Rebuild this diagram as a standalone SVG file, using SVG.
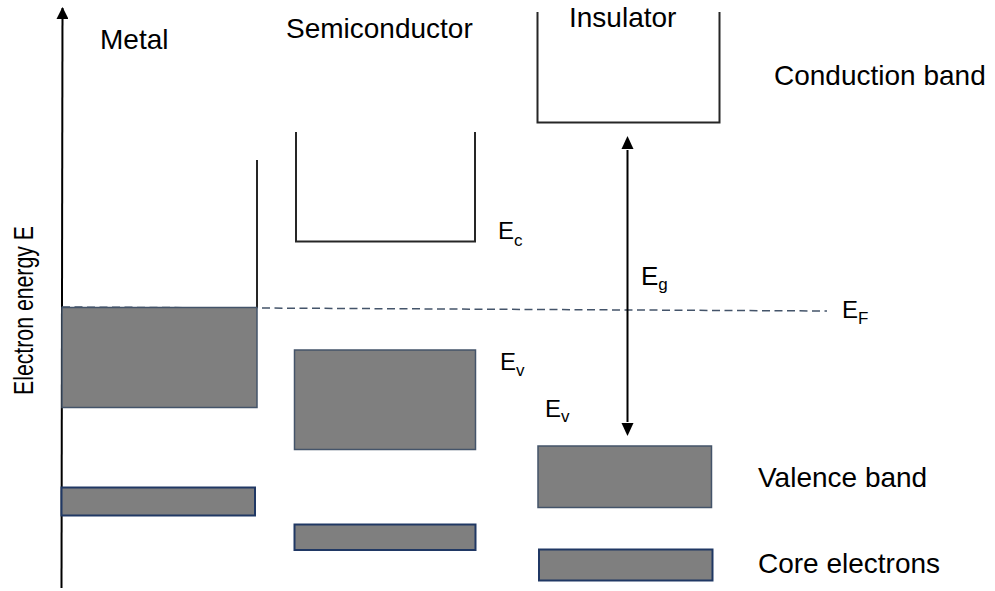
<svg xmlns="http://www.w3.org/2000/svg" width="995" height="591" viewBox="0 0 995 591">
<style>
text{font-family:"Liberation Sans",Arial,sans-serif;fill:#000}
.lbl{font-size:28px}
.e{font-size:24px}
.sub{font-size:17px}
.band{fill:none;stroke:#262626;stroke-width:2}
.val{fill:#7f7f7f;stroke:#44546a;stroke-width:1.5}
.core{fill:#7f7f7f;stroke:#203864;stroke-width:2}
.ax{stroke:#000;stroke-width:2;fill:none}
</style>
<defs>
<marker id="ah" viewBox="0 0 12 12" refX="11" refY="6" markerWidth="12" markerHeight="12" markerUnits="userSpaceOnUse" orient="auto">
<path d="M0,0 L12,6 L0,12 Z" fill="#000"/>
</marker>
</defs>
<g id="connectors">
<line class="ax" x1="61.5" y1="588" x2="62.5" y2="8" marker-end="url(#ah)"/>
<line x1="62" y1="307" x2="827" y2="311" stroke="#44546a" stroke-width="1.5" stroke-dasharray="8,4.5"/>
<line class="ax" x1="627.5" y1="150" x2="627.5" y2="422"/>
<path d="M627.5,136 L621.5,149 L633.5,149 Z" fill="#000"/>
<path d="M627.5,436 L621.5,423 L633.5,423 Z" fill="#000"/>
</g>
<g id="axis-label">
<text class="lbl" transform="translate(33,395) rotate(-90)" textLength="169" lengthAdjust="spacingAndGlyphs">Electron energy E</text>
</g>
<g id="metal">
<text class="lbl" x="100" y="49">Metal</text>
<line class="band" x1="257" y1="160" x2="257" y2="308"/>
<rect class="val" x="62" y="307.5" width="195" height="100"/>
<rect class="core" x="61.5" y="487.5" width="193.5" height="28"/>
</g>
<g id="semiconductor">
<text class="lbl" x="286" y="38">Semiconductor</text>
<path class="band" d="M296,132 V241.5 H475 V132"/>
<rect class="val" x="294.5" y="350" width="181" height="99.5"/>
<rect class="core" x="294.5" y="524.5" width="181" height="25.5"/>
<text class="e" x="498" y="239">E<tspan class="sub" dy="7">c</tspan></text>
<text class="e" x="500" y="370">E<tspan class="sub" dy="6">v</tspan></text>
</g>
<g id="insulator">
<text class="lbl" x="569" y="27">Insulator</text>
<path class="band" d="M537.5,12 V122.5 H719.5 V12"/>
<rect class="val" x="538" y="446" width="173.5" height="61.5"/>
<rect class="core" x="539" y="549.5" width="173.5" height="31"/>
<text class="e" x="545" y="417">E<tspan class="sub" dy="5">v</tspan></text>
<text x="641" y="285" style="font-size:26px">E<tspan class="sub" dy="5">g</tspan></text>
</g>
<g id="fermi">
<text class="e" x="842" y="318">E<tspan class="sub" dy="6">F</tspan></text>
</g>
<g id="legend">
<text class="lbl" x="774" y="85">Conduction band</text>
<text class="lbl" x="758" y="487">Valence band</text>
<text class="lbl" x="758" y="573">Core electrons</text>
</g>
</svg>
